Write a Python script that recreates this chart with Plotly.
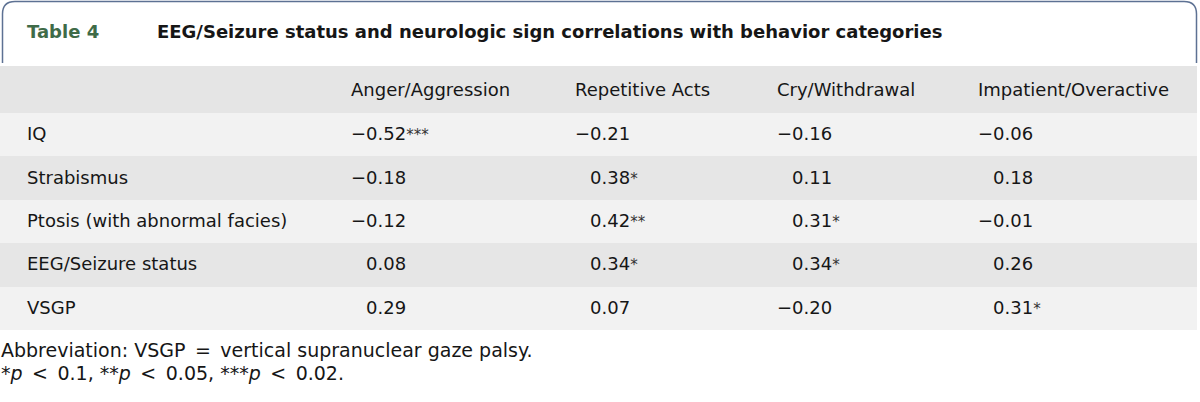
import plotly.graph_objects as go

W, H = 1200, 402
FONT = "DejaVu Sans"
TEXT = "#161616"

# data
row_labels = ["IQ", "Strabismus", "Ptosis (with abnormal facies)", "EEG/Seizure status", "VSGP"]
col_labels = ["Anger/Aggression", "Repetitive Acts", "Cry/Withdrawal", "Impatient/Overactive"]
anger = [-0.52, -0.18, -0.12, 0.08, 0.29]
anger_sig = [3, 0, 0, 0, 0]
repetitive = [-0.21, 0.38, 0.42, 0.34, 0.07]
repetitive_sig = [0, 1, 2, 1, 0]
cry = [-0.16, 0.11, 0.31, 0.34, -0.20]
cry_sig = [0, 0, 1, 1, 0]
impatient = [-0.06, 0.18, -0.01, 0.26, 0.31]
impatient_sig = [0, 0, 0, 0, 1]

table_no = "Table 4"
title = "EEG/Seizure status and neurologic sign correlations with behavior categories"
footnote1 = "Abbreviation: VSGP\u2002=\u2002vertical supranuclear gaze palsy."
footnote2 = ("*<i>p</i>\u2002<\u20020.1, **<i>p</i>\u2002<\u20020.05, "
             "***<i>p</i>\u2002<\u20020.02.")

# layout (pixels)
HEADER_TOP, HEADER_H, ROW_H = 66, 47, 43.4
LABEL_X = 27
COL_X = [351, 575, 777, 978]
TABLE_LEFT, TABLE_W = 0, 1197

LIGHT = "#f2f2f2"
DARK = "#e6e6e6"


def fmt(v, sig):
    sign = "\u2212" if v < 0 else "\u2007\u2009"
    stars = "<span style='font-size:15px;color:#333'>" + "*" * sig + "</span>" if sig else ""
    return f"{sign}{abs(v):.2f}{stars}"


n = len(row_labels)
header_y = HEADER_TOP + HEADER_H / 2
row_y = [HEADER_TOP + HEADER_H + ROW_H * (i + 0.5) for i in range(n)]
row_fill = [LIGHT if i % 2 == 0 else DARK for i in range(n)]

fig = go.Figure()

# row bands
fig.add_trace(go.Bar(
    orientation="h", y=[header_y] + row_y, x=[TABLE_W] * (n + 1), base=TABLE_LEFT,
    width=[HEADER_H] + [ROW_H] * n, marker=dict(color=["#e5e5e5"] + row_fill, line=dict(width=0)),
    hoverinfo="skip",
))

# header texts
fig.add_trace(go.Scatter(
    x=COL_X, y=[header_y + 2] * len(col_labels), text=col_labels, mode="text",
    textposition="middle right", textfont=dict(family=FONT, size=18, color=TEXT), hoverinfo="skip",
))

# row labels
fig.add_trace(go.Scatter(
    x=[LABEL_X] * n, y=[y + 1 for y in row_y], text=row_labels, mode="text",
    textposition="middle right", textfont=dict(family=FONT, size=18, color=TEXT), hoverinfo="skip",
))

# values
for cx, vals, sigs in zip(COL_X, [anger, repetitive, cry, impatient],
                          [anger_sig, repetitive_sig, cry_sig, impatient_sig]):
    fig.add_trace(go.Scatter(
        x=[cx] * n, y=[y + 1 for y in row_y], text=[fmt(v, s) for v, s in zip(vals, sigs)],
        mode="text", textposition="middle right",
        textfont=dict(family=FONT, size=18, color=TEXT), hoverinfo="skip",
    ))

# rounded title box
fig.add_shape(
    type="path",
    path="M 2.5,63 L 2.5,14 Q 2.5,1.5 15,1.5 L 1184,1.5 Q 1196.5,1.5 1196.5,14 L 1196.5,63",
    xref="x", yref="y",
    line=dict(color="#5d7193", width=1.5),
)

fig.add_annotation(x=LABEL_X - 2, y=31, text=f"<b>{table_no}</b>", showarrow=False,
                   xanchor="left", yanchor="middle",
                   font=dict(family=FONT, size=18, color="#3f6b48"))
fig.add_annotation(x=155, y=31, text=f"<b>{title}</b>", showarrow=False,
                   xanchor="left", yanchor="middle",
                   font=dict(family=FONT, size=18, color=TEXT))
fig.add_annotation(x=0, y=350, xshift=-1, text=footnote1, showarrow=False,
                   xanchor="left", yanchor="middle",
                   font=dict(family=FONT, size=19, color=TEXT))
fig.add_annotation(x=0, y=373, xshift=-1, text=footnote2, showarrow=False,
                   xanchor="left", yanchor="middle",
                   font=dict(family=FONT, size=19, color=TEXT))

fig.update_layout(
    width=W, height=H,
    margin=dict(l=0, r=0, t=0, b=0),
    paper_bgcolor="white",
    plot_bgcolor="white",
    showlegend=False,
    bargap=0,
    xaxis=dict(range=[0, W], visible=False, fixedrange=True),
    yaxis=dict(range=[H, 0], visible=False, fixedrange=True),
)

fig.write_html("out.html", config={"displayModeBar": False},
               post_script="document.body.style.margin='0px';")
